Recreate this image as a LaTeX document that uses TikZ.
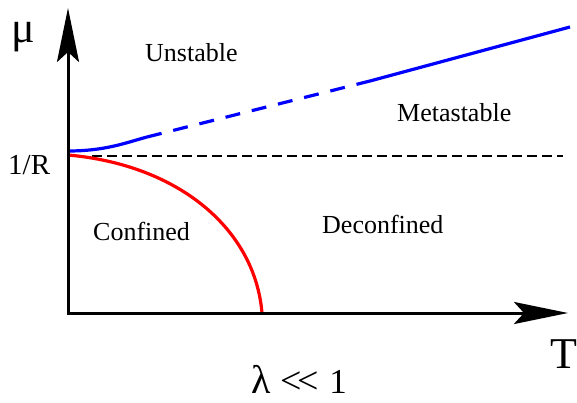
\documentclass[tikz,border=0pt]{standalone}
\usepackage{fontspec}
\setmainfont{Liberation Serif}
\usetikzlibrary{arrows.meta}
\begin{document}
\begin{tikzpicture}[x=1pt,y=-1pt,
  axis/.style={line width=3pt,line join=miter,
    {Stealth[length=54pt,width=22pt,inset=10pt]}-{Stealth[length=54pt,width=22pt,inset=10pt]}},
  lbl/.style={inner sep=0pt,anchor=base west,font=\fontsize{26}{30}\selectfont},
  big/.style={inner sep=0pt,font=\fontsize{44}{50}\selectfont},
  blueline/.style={blue,line width=3.2pt},
  redline/.style={red,line width=3.2pt},
  refline/.style={black,line width=1.5pt,dash pattern=on 10pt off 5pt}]
\useasboundingbox (0,0) rectangle (577,403);
\coordinate (ytip) at (68,8);
\coordinate (o) at (68,313);
\coordinate (xtip) at (568,313);
\coordinate (rs) at (68,155);
\coordinate (re) at (262,313);
\coordinate (bs) at (68,151);
\coordinate (b1) at (147,137);
\coordinate (b2) at (370,81);
\coordinate (be) at (570,27);
\coordinate (ds) at (92,156);
\coordinate (de) at (563,156);
% reference dashed line
\draw[refline] (ds) -- (de);
% curves
\draw[redline] (rs) .. controls (180,165) and (255,230) .. (re);
\draw[blueline] (bs) .. controls (105,151) and (125,143) .. (b1);
\draw[blueline,dash pattern=on 15pt off 12pt] (b1) -- (b2);
\draw[blueline] (b2) -- (be);
% axes
\draw[axis] (ytip) -- (o) -- (xtip);
% labels
\node[big,anchor=base west] (mu) at (11,43) {μ};
\node[big,anchor=base east] (T) at (578,368) {T};
\node[inner sep=0pt,anchor=base west,font=\fontsize{29}{33}\selectfont] (r) at (8,175) {1/R};
\node[lbl] (un) at (145,62) {Unstable};
\node[lbl] (me) at (397,122) {Metastable};
\node[lbl] (co) at (93,240) {Confined};
\node[lbl] (dc) at (322,233) {Deconfined};
\node[inner sep=0pt,text depth=0pt,anchor=base west,font=\fontsize{34}{38}\selectfont] (lam) at (251,393)
  {{\fontsize{40}{44}\selectfont λ}\hspace{0.3em}{\fontsize{38}{42}\selectfont <\hspace{-0.12em}<}\hspace{0.3em}{\fontsize{35}{40}\selectfont 1}};
\end{tikzpicture}
\end{document}
